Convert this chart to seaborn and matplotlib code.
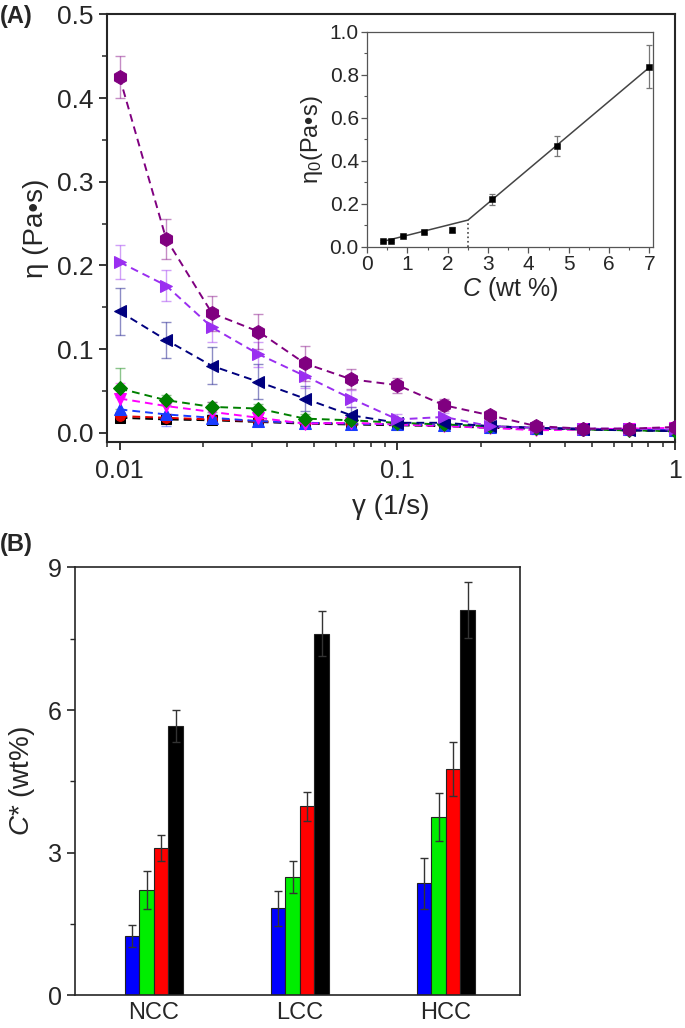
import numpy as np
import pandas as pd
import seaborn as sns
import matplotlib
matplotlib.use("Agg")
from matplotlib import pyplot as plt
from matplotlib.ticker import MultipleLocator, FixedLocator, LogLocator, NullFormatter

# ---- panel A: viscosity vs shear rate ----
shear_rate = [0.01, 0.0147, 0.0215, 0.0316, 0.0464, 0.0681, 0.1, 0.147, 0.215, 0.316, 0.464, 0.681, 1.0]

series_names = ["purple", "violet", "navy", "green", "magenta", "blue", "red", "black"]
eta_purple = [0.425, 0.232, 0.143, 0.121, 0.083, 0.064, 0.057, 0.033, 0.021, 0.008, 0.005, 0.005, 0.007]
eta_violet = [0.204, 0.176, 0.126, 0.094, 0.068, 0.041, 0.016, 0.019, 0.008, 0.006, 0.005, 0.005, 0.004]
eta_navy = [0.145, 0.111, 0.080, 0.061, 0.041, 0.021, 0.012, 0.012, 0.008, 0.006, 0.004, 0.003, 0.002]
eta_green = [0.053, 0.039, 0.031, 0.029, 0.017, 0.015, 0.012, 0.010, 0.008, 0.006, 0.004, 0.003, 0.002]
eta_magenta = [0.041, 0.032, 0.025, 0.018, 0.011, 0.012, 0.010, 0.008, 0.006, 0.003, 0.004, 0.005, 0.006]
eta_blue = [0.028, 0.022, 0.018, 0.014, 0.012, 0.011, 0.010, 0.009, 0.007, 0.006, 0.005, 0.004, 0.003]
eta_red = [0.020, 0.018, 0.016, 0.014, 0.012, 0.011, 0.010, 0.009, 0.007, 0.006, 0.005, 0.004, 0.003]
eta_black = [0.018, 0.016, 0.015, 0.013, 0.011, 0.010, 0.009, 0.008, 0.006, 0.005, 0.004, 0.003, 0.002]

err_purple = [0.025, 0.024, 0.021, 0.021, 0.021, 0.012, 0.009, 0.007, 0.005, 0.004, 0.003, 0.003, 0.003]
err_violet = [0.020, 0.018, 0.018, 0.015, 0.014, 0.010, 0.006, 0.005, 0.004, 0.003, 0.003, 0.003, 0.003]
err_navy = [0.028, 0.021, 0.022, 0.021, 0.015, 0.010, 0.006, 0.005, 0.004, 0.003, 0.003, 0.002, 0.002]
err_green = [0.025, 0.006, 0.006, 0.005, 0.005, 0.004, 0.004, 0.003, 0.003, 0.003, 0.002, 0.002, 0.002]
err_magenta = [0.018, 0.010, 0.012, 0.006, 0.005, 0.004, 0.004, 0.005, 0.004, 0.004, 0.003, 0.003, 0.003]
err_blue = [0.015, 0.014, 0.005, 0.005, 0.004, 0.004, 0.003, 0.003, 0.003, 0.002, 0.002, 0.002, 0.002]
err_red = [0.005, 0.004, 0.004, 0.003, 0.003, 0.003, 0.003, 0.003, 0.002, 0.002, 0.002, 0.002, 0.002]
err_black = [0.004, 0.004, 0.003, 0.003, 0.003, 0.003, 0.003, 0.002, 0.002, 0.002, 0.002, 0.002, 0.002]

# ---- inset: zero-shear viscosity vs concentration ----
conc = [0.4, 0.6, 0.9, 1.4, 2.1, 3.1, 4.7, 7.0]
eta0 = [0.028, 0.028, 0.050, 0.070, 0.080, 0.220, 0.468, 0.838]
eta0_err = [0.004, 0.004, 0.005, 0.006, 0.010, 0.027, 0.046, 0.100]
fit_conc = [0.4, 2.5, 7.0]
fit_eta0 = [0.025, 0.124, 0.835]
c_crit = 2.5

# ---- panel B: critical concentration ----
samples = ["NCC", "LCC", "HCC"]
groups = ["g1", "g2", "g3", "g4"]
cstar_g1 = [1.24, 1.83, 2.35]
cstar_g2 = [2.21, 2.48, 3.75]
cstar_g3 = [3.10, 3.97, 4.76]
cstar_g4 = [5.67, 7.61, 8.11]
cerr_g1 = [0.23, 0.37, 0.53]
cerr_g2 = [0.40, 0.34, 0.51]
cerr_g3 = [0.27, 0.31, 0.56]
cerr_g4 = [0.34, 0.48, 0.59]

colors = {"purple": "#800080", "violet": "#9A2EF0", "navy": "#00007F", "green": "#008000",
          "magenta": "#FF00FF", "blue": "#1A3CFF", "red": "#E00000", "black": "#000000"}
markers = {"purple": "h", "violet": ">", "navy": "<", "green": "D",
           "magenta": "v", "blue": "^", "red": "o", "black": "s"}
msizes = {"purple": 10, "violet": 9, "navy": 9, "green": 7.5, "magenta": 9, "blue": 9, "red": 7, "black": 6.5}

etas = [eta_purple, eta_violet, eta_navy, eta_green, eta_magenta, eta_blue, eta_red, eta_black]
errs = [err_purple, err_violet, err_navy, err_green, err_magenta, err_blue, err_red, err_black]

sns.set_style("ticks")
plt.rcParams["font.family"] = ["Liberation Sans", "DejaVu Sans"]
plt.rcParams["mathtext.fontset"] = "custom"
plt.rcParams["mathtext.rm"] = "Liberation Sans"
plt.rcParams["mathtext.it"] = "Liberation Sans:italic"

fig = plt.figure(figsize=(6.85, 10.28), dpi=100)
ax1 = fig.add_axes([0.156, 0.570, 0.830, 0.416])
ax_in = fig.add_axes([0.536, 0.760, 0.418, 0.209])
ax2 = fig.add_axes([0.1095, 0.032, 0.650, 0.416])

# panel A
long_rows = []
for name, eta, err in zip(series_names, etas, errs):
    for x, y, e in zip(shear_rate, eta, err):
        long_rows.append({"rate": x, "eta": y, "err": e, "series": name})
df_a = pd.DataFrame(long_rows)

for name in series_names[::-1]:
    d = df_a[df_a.series == name]
    ax1.errorbar(d.rate, d.eta, yerr=d.err, fmt="none", ecolor=colors[name], alpha=0.45,
                 elinewidth=1.0, capsize=3.5, capthick=1.0, zorder=2)
    sns.lineplot(data=d, x="rate", y="eta", ax=ax1, color=colors[name],
                 linestyle=(0, (4, 2.6)), linewidth=1.4, marker=markers[name],
                 markersize=msizes[name], markeredgecolor=colors[name], legend=False, zorder=3)

ax1.set_xscale("log")
ax1.set_xlim(0.0090, 1.0)
ax1.set_ylim(-0.011, 0.5)
ax1.yaxis.set_major_locator(MultipleLocator(0.1))
ax1.yaxis.set_minor_locator(MultipleLocator(0.05))
ax1.yaxis.set_major_formatter(plt.FuncFormatter(lambda v, p: f"{v:.1f}"))
ax1.xaxis.set_major_locator(FixedLocator([0.01, 0.1, 1]))
ax1.xaxis.set_major_formatter(plt.FuncFormatter(lambda v, p: f"{v:g}"))
ax1.xaxis.set_minor_locator(LogLocator(base=10, subs=np.arange(2, 10), numticks=20))
ax1.xaxis.set_minor_formatter(NullFormatter())
ax1.tick_params(axis="y", which="major", direction="out", length=6, width=1.3, labelsize=19)
ax1.tick_params(axis="x", which="major", direction="out", length=6, width=1.3, labelsize=18, pad=6)
ax1.tick_params(which="minor", direction="out", length=3.5, width=1.1)
ax1.set_xlabel("γ (1/s)", fontsize=20, labelpad=8)
ax1.set_ylabel("η (Pa•s)", fontsize=20, labelpad=6)
for sp in ax1.spines.values():
    sp.set_linewidth(1.5)

# inset
df_in = pd.DataFrame({"C": conc, "eta0": eta0, "err": eta0_err})
df_fit = pd.DataFrame({"C": fit_conc, "eta0": fit_eta0})
sns.lineplot(data=df_fit, x="C", y="eta0", ax=ax_in, color="#444444", linewidth=1.1, legend=False)
ax_in.plot([c_crit, c_crit], [0, fit_eta0[1]], color="#444444", linestyle=":", linewidth=1.2)
ax_in.errorbar(df_in.C, df_in.eta0, yerr=df_in.err, fmt="none", ecolor="#777777",
               elinewidth=0.9, capsize=2.5, capthick=0.9)
sns.scatterplot(data=df_in, x="C", y="eta0", ax=ax_in, color="black", marker="s", s=22,
                edgecolor="black", legend=False, zorder=4)
ax_in.set_xlim(0, 7.1)
ax_in.set_ylim(0, 1.0)
ax_in.xaxis.set_major_locator(MultipleLocator(1))
ax_in.xaxis.set_minor_locator(MultipleLocator(0.5))
ax_in.yaxis.set_major_locator(MultipleLocator(0.2))
ax_in.yaxis.set_minor_locator(MultipleLocator(0.1))
ax_in.yaxis.set_major_formatter(plt.FuncFormatter(lambda v, p: f"{v:.1f}"))
ax_in.tick_params(which="major", direction="out", length=4, width=0.9, labelsize=15, pad=2,
                  color="#555555")
ax_in.tick_params(which="minor", direction="out", length=2, width=0.8, color="#555555")
ax_in.set_xlabel("$\\mathit{C}$ (wt %)", fontsize=18, labelpad=1)
ax_in.set_ylabel("η$_0$(Pa•s)", fontsize=17, labelpad=3)
for sp in ax_in.spines.values():
    sp.set_linewidth(0.9)
    sp.set_color("#555555")

# panel B
cstars = [cstar_g1, cstar_g2, cstar_g3, cstar_g4]
cerrs = [cerr_g1, cerr_g2, cerr_g3, cerr_g4]
rows_b = []
for g, vals in zip(groups, cstars):
    for s, v in zip(samples, vals):
        rows_b.append({"sample": s, "group": g, "cstar": v})
df_b = pd.DataFrame(rows_b)
sns.barplot(data=df_b, x="sample", y="cstar", hue="group", ax=ax2,
            palette=["#0000FF", "#00EE00", "#FF0000", "#000000"], width=0.4,
            edgecolor="#222222", linewidth=0.8, errorbar=None, legend=False, saturation=1)
for cont, err in zip(ax2.containers, cerrs):
    xs = [b.get_x() + b.get_width() / 2 for b in cont]
    hs = [b.get_height() for b in cont]
    ax2.errorbar(xs, hs, yerr=err, fmt="none", ecolor="#333333", elinewidth=1.0,
                 capsize=3, capthick=1.0, zorder=5)

ax2.set_xlim(-0.54, 2.51)
ax2.set_ylim(0, 9)
ax2.yaxis.set_major_locator(MultipleLocator(3))
ax2.yaxis.set_minor_locator(MultipleLocator(1.5))
ax2.tick_params(axis="y", which="major", direction="out", length=6, width=1.2, labelsize=18)
ax2.tick_params(axis="y", which="minor", direction="out", length=3.5, width=1.0)
ax2.tick_params(axis="x", length=0, labelsize=17, pad=5)
ax2.set_xlabel("")
ax2.set_ylabel("$\\mathit{C}$* (wt%)", fontsize=20, labelpad=8)
for sp in ax2.spines.values():
    sp.set_linewidth(1.2)

fig.text(0.0, 0.984, "(A)", fontsize=17, fontweight="bold", ha="left", va="center")
fig.text(0.0, 0.470, "(B)", fontsize=17, fontweight="bold", ha="left", va="center")

fig.savefig("out.png", dpi=100)
plt.close(fig)
